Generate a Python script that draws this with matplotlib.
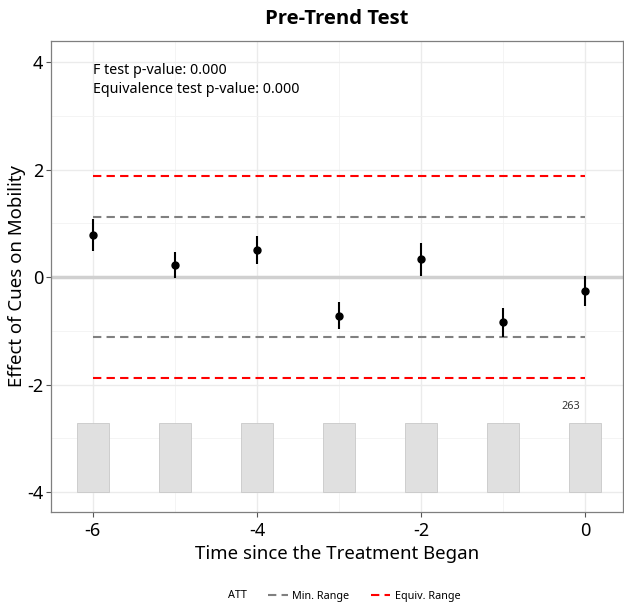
import matplotlib
matplotlib.use("Agg")
import matplotlib.pyplot as plt
from matplotlib.lines import Line2D
import numpy as np

plt.rcParams['font.family'] = ['Noto Sans', 'DejaVu Sans']

periods = [-6, -5, -4, -3, -2, -1, 0]
att = [0.79, 0.22, 0.50, -0.72, 0.33, -0.84, -0.26]
ci_low = [0.48, -0.02, 0.25, -0.97, 0.02, -1.11, -0.53]
ci_high = [1.08, 0.47, 0.76, -0.47, 0.64, -0.57, 0.02]
counts = [263, 263, 263, 263, 263, 263, 263]
min_range = 1.11
equiv_range = 1.87
f_pvalue = "0.000"
equiv_pvalue = "0.000"

fig = plt.figure(figsize=(6.24, 6.10), dpi=100)
ax = fig.add_axes([51/624, 1-512/610, 572/624, 471/610])

xlim = (-6.51, 0.46)
ylim = (-4.37, 4.39)
ax.set_xlim(*xlim)
ax.set_ylim(*ylim)

# grid
for x in [-6, -4, -2, 0]:
    ax.axvline(x, color='#ebebeb', lw=1.0, zorder=0)
for x in [-5, -3, -1]:
    ax.axvline(x, color='#f2f2f2', lw=0.6, zorder=0)
for y in [-4, -2, 0, 2, 4]:
    ax.axhline(y, color='#ebebeb', lw=1.0, zorder=0)
for y in [-3, -1, 1, 3]:
    ax.axhline(y, color='#f2f2f2', lw=0.6, zorder=0)

# zero line
ax.axhline(0, color='#d0d0d0', lw=2.5, zorder=1)

# count bars
bar_bottom = -4.0
bar_top = -2.72
maxc = max(counts)
heights = [(c / maxc) * (bar_top - bar_bottom) for c in counts]
ax.bar(periods, heights, bottom=bar_bottom, width=0.39, color='#e0e0e0',
       edgecolor='#c8c8c8', linewidth=0.6, zorder=1)
ax.text(periods[-1] - 0.17, -2.4, str(counts[-1]), fontsize=7.8, ha='center',
        va='center', color='#333333')

# ranges
ax.hlines([min_range, -min_range], periods[0], periods[-1], colors='#808080',
          linestyles=(0, (4, 2.5)), lw=1.5, zorder=2)
ax.hlines([equiv_range, -equiv_range], periods[0], periods[-1], colors='#ff0000',
          linestyles=(0, (4, 2.5)), lw=1.5, zorder=2)

# estimates
ax.vlines(periods, ci_low, ci_high, colors='black', lw=1.5, zorder=3)
ax.plot(periods, att, 'o', color='black', ms=5, zorder=4)

# annotations
ax.text(-6, 3.85, f"F test p-value: {f_pvalue}", fontsize=10.25, va='center', ha='left')
ax.text(-6, 3.49, f"Equivalence test p-value: {equiv_pvalue}", fontsize=10.25, va='center', ha='left')

ax.set_xticks([-6, -4, -2, 0])
ax.set_xticklabels(['-6', '-4', '-2', '0'])
ax.set_yticks([-4, -2, 0, 2, 4])
ax.set_yticklabels(['-4', '-2', '0', '2', '4'])
ax.tick_params(axis='both', labelsize=13, color='#555555', length=3.5, width=0.8,
               labelcolor='black')
ax.tick_params(axis='x', pad=4)
ax.tick_params(axis='y', pad=2)

for side in ['left', 'bottom', 'top', 'right']:
    ax.spines[side].set_color('#7f7f7f')
    ax.spines[side].set_linewidth(0.9)

ax.set_xlabel('Time since the Treatment Began', fontsize=13.4, labelpad=3)
ax.set_ylabel('Effect of Cues on Mobility', fontsize=13.4, labelpad=1)
ax.set_title('Pre-Trend Test', fontsize=14.6, fontweight='bold',
             family=['Open Sans', 'DejaVu Sans'], pad=12)

handles = [
    Line2D([], [], color='none', lw=0),
    Line2D([], [], color='#808080', lw=1.5, linestyle=(0, (4, 2.5))),
    Line2D([], [], color='#ff0000', lw=1.5, linestyle=(0, (4, 2.5))),
]
labels = ['ATT', 'Min. Range', 'Equiv. Range']
fig.legend(handles, labels, loc='center', bbox_to_anchor=(0.532, 1-596/610), ncol=3,
           frameon=False, fontsize=7.8, handlelength=1.8, handletextpad=0.4,
           columnspacing=2.0)

fig.savefig('out.png', dpi=100)
